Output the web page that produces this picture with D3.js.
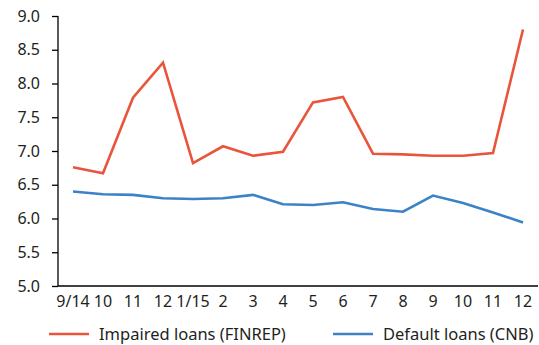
<!DOCTYPE html>
<html>
<head>
<meta charset="utf-8">
<script src="https://cdn.jsdelivr.net/npm/d3@7"></script>
<style>
  html, body { margin: 0; padding: 0; background: #fff; }
  svg text { font-family: "Noto Sans", "Open Sans", sans-serif; fill: #231f20; }
</style>
</head>
<body>
<svg id="chart" width="539" height="345"></svg>
<script>
// Month labels (Sep 2014 – Dec 2015)
const months = ["9/14", "10", "11", "12", "1/15", "2", "3", "4", "5", "6", "7", "8", "9", "10", "11", "12"];
// Ratios of impaired loans (FINREP definition), %
const impaired = [6.76, 6.67, 7.79, 8.31, 6.82, 7.07, 6.93, 6.99, 7.72, 7.80, 6.96, 6.95, 6.93, 6.93, 6.97, 8.80];
// Ratios of default loans (CNB definition), %
const defaults = [6.40, 6.36, 6.35, 6.30, 6.29, 6.30, 6.35, 6.21, 6.20, 6.24, 6.14, 6.10, 6.34, 6.23, 6.09, 5.94];
const yTicks = [5.0, 5.5, 6.0, 6.5, 7.0, 7.5, 8.0, 8.5, 9.0];

(function () {
  const series = [
    { name: "Impaired loans (FINREP)", values: impaired, color: "#e9553b" },
    { name: "Default loans (CNB)", values: defaults, color: "#3c82c6" }
  ];

  const svg = d3.select("#chart");
  const plotLeft = 58, plotRight = 538, plotTop = 16, plotBottom = 286;
  const fontSize = "16px";

  const x = d3.scaleBand().domain(d3.range(months.length)).range([plotLeft, plotRight]);
  const y = d3.scaleLinear().domain([5, 9]).range([plotBottom, plotTop]);

  // y axis
  const yAxis = svg.append("g")
    .attr("transform", `translate(${plotLeft},0)`)
    .call(d3.axisLeft(y).tickValues(yTicks).tickFormat(d3.format(".1f")).tickSize(6).tickPadding(12));
  yAxis.selectAll("text").style("font-size", fontSize).attr("fill", "#231f20");
  yAxis.selectAll("line, path").attr("stroke", "#000").attr("stroke-width", 1.3);
  yAxis.select(".domain").attr("d", `M0,${plotBottom}V${plotTop}`);

  // x axis (no tick marks)
  const xAxis = svg.append("g")
    .attr("transform", `translate(0,${plotBottom})`)
    .call(d3.axisBottom(x).tickFormat(i => months[i]).tickSize(0).tickPadding(10));
  xAxis.selectAll("text").style("font-size", fontSize).attr("fill", "#231f20");
  xAxis.select(".domain").attr("d", `M${plotLeft},0H${plotRight}`).attr("stroke", "#000").attr("stroke-width", 1.3);

  const line = d3.line()
    .x((d, i) => x(i) + x.bandwidth() / 2)
    .y(d => y(d));

  series.forEach(s => {
    svg.append("path")
      .datum(s.values)
      .attr("fill", "none")
      .attr("stroke", s.color)
      .attr("stroke-width", 2.6)
      .attr("stroke-linejoin", "miter")
      .attr("d", line);
  });

  // legend
  const legendPos = [49, 333];
  series.forEach((s, k) => {
    const g = svg.append("g").attr("transform", `translate(${legendPos[k]},334)`);
    g.append("line").attr("x1", 0).attr("x2", 40).attr("y1", 0).attr("y2", 0)
      .attr("stroke", s.color).attr("stroke-width", 2.6);
    g.append("text").attr("x", 50).attr("y", 0).attr("dy", "0.35em")
      .style("font-size", "16.5px").text(s.name);
  });
})();
</script>
</body>
</html>
